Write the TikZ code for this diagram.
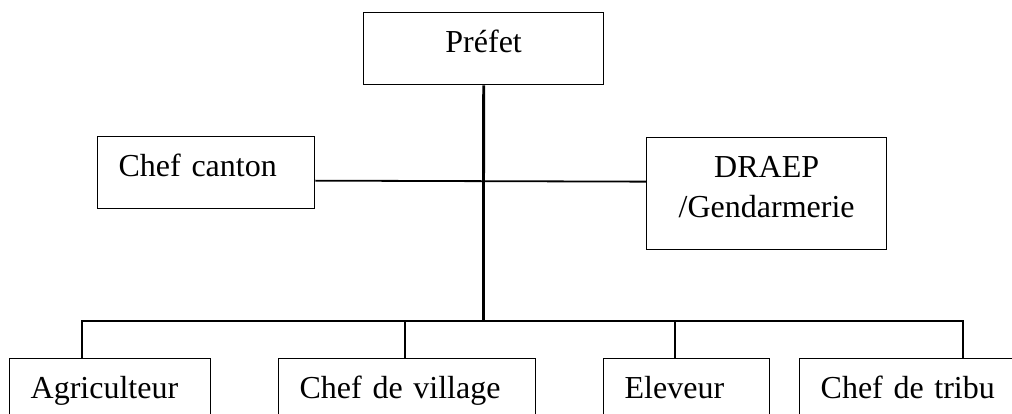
\documentclass[tikz,border=0pt]{standalone}
\usepackage{fontspec}
\setmainfont{Liberation Serif}
\usetikzlibrary{calc}
\tikzset{
  box/.style={draw=black,line width=1.3pt,anchor=north west,inner ysep=0pt,
    text height=22pt,text depth=14pt,minimum height=72pt},
  midbox/.style={box,inner xsep=0pt,align=center},
  leftbox/.style={box,inner xsep=21pt,align=left,text width=#1},
  thin link/.style={line width=1.8pt},
  thick link/.style={line width=2.8pt}
}

\begin{document}
\begin{tikzpicture}[x=1pt,y=-1pt,font=\fontsize{32}{40}\selectfont]
\clip (0,0) rectangle (1012,414);
\node[midbox,minimum width=240pt] (prefet) at (363,12) {Préfet};
\node[leftbox=175pt] (canton) at (97,136) {Chef canton};
\node[midbox,text height=62pt,minimum width=240pt,minimum height=112pt] (draep) at (646,137) {DRAEP\\/Gendarmerie};
\node[leftbox=159pt] (agri) at (9,358) {Agriculteur};
\node[leftbox=215pt] (village) at (278,358) {Chef de village};
\node[leftbox=124pt] (eleveur) at (603,358) {Eleveur};
\node[leftbox=198pt] (tribu) at (799,358) {Chef de tribu};
\coordinate (bus) at (483.5,321);
\coordinate (dA) at (82,321);
\coordinate (dV) at (405,321);
\coordinate (dE) at (675,321);
\coordinate (dT) at (963,321);
\draw[thin link] ([yshift=-8pt]canton.east) -- ([yshift=12pt]draep.west);
\draw[thick link] (prefet.south) -- (bus);
\draw[thick link] (dA |- agri.north) -- (dA) -- (dT) -- (dT |- tribu.north);
\draw[thick link] (dV) -- (dV |- village.north);
\draw[thick link] (dE) -- (dE |- eleveur.north);
\end{tikzpicture}
\end{document}
